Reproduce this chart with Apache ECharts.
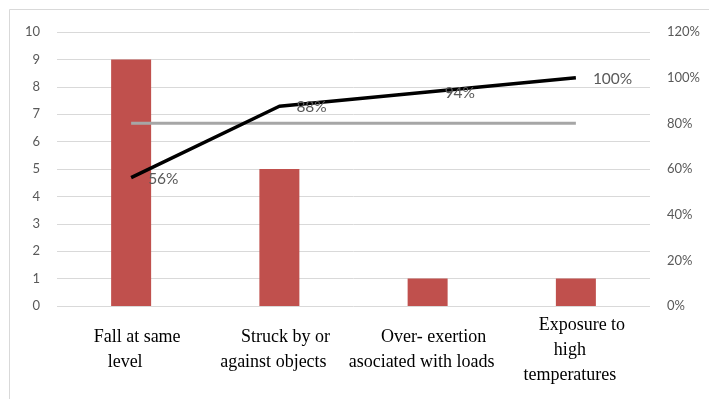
<!DOCTYPE html>
<html>
<head>
<meta charset="utf-8">
<script src="https://cdn.jsdelivr.net/npm/echarts@6/dist/echarts.min.js"></script>
<style>
  html, body { margin: 0; padding: 0; background: #fff; }
  #chart { width: 709px; height: 399px; }
</style>
</head>
<body>
<div id="chart"></div>
<script>
// Accident types and their counts (Pareto chart)
const categories = [
  'Fall at same\nlevel',
  'Struck by or\nagainst objects',
  'Over- exertion\nasociated with loads',
  'Exposure to\nhigh\ntemperatures'
];
const counts = [9, 5, 1, 1];
const cumulativeShare = [0.5625, 0.875, 0.9375, 1.0];
const cumulativeLabels = ['56%', '88%', '94%', '100%'];
const thresholdLine = [0.8, 0.8, 0.8, 0.8];
const leftTicks = { min: 0, max: 10, interval: 1 };
const rightTicks = { min: 0, max: 1.2, interval: 0.2 };

const numFont = 'Lato, Liberation Sans, sans-serif';
const serifFont = 'Liberation Serif, DejaVu Serif, serif';
const catText = { color: '#000', fontFamily: serifFont, fontSize: 18, lineHeight: 25 };

// First line of each category name sits a little to the right of the rest
function categoryLabel(value) {
  const lines = value.split('\n');
  const first = '{first|' + lines[0] + '}';
  const rest = lines.slice(1).map(l => '{rest|' + l + '}');
  return [first].concat(rest).join('\n');
}

const chart = echarts.init(document.getElementById('chart'), null, { renderer: 'canvas' });
chart.setOption({
  animation: false,
  backgroundColor: '#fff',
  graphic: [{
    type: 'polyline',
    shape: { points: [[9.5, 420], [9.5, 9.5], [720, 9.5]] },
    style: { stroke: '#d9d9d9', lineWidth: 1, fill: null }
  }],
  grid: { left: 57, right: 59, top: 32, bottom: 93 },
  xAxis: {
    type: 'category', data: categories, boundaryGap: true,
    axisLine: { show: false }, axisTick: { show: false },
    axisLabel: {
      interval: 0, verticalAlign: 'middle', margin: 44,
      formatter: categoryLabel,
      rich: {
        first: Object.assign({ padding: [0, 0, 0, 12] }, catText),
        rest: Object.assign({ padding: [0, 12, 0, 0] }, catText)
      }
    }
  },
  yAxis: [
    { type: 'value', position: 'left', ...leftTicks,
      axisLine: { show: false }, axisTick: { show: false },
      axisLabel: { color: '#595959', fontFamily: numFont, fontSize: 13, margin: 17 },
      splitLine: { lineStyle: { color: '#d9d9d9', width: 1 } } },
    { type: 'value', position: 'right', ...rightTicks,
      axisLine: { show: false }, axisTick: { show: false }, splitLine: { show: false },
      axisLabel: { color: '#595959', fontFamily: numFont, fontSize: 13, margin: 17,
        formatter: v => Math.round(v * 100) + '%' } }
  ],
  series: [
    { type: 'bar', yAxisIndex: 0, data: counts, barWidth: 40,
      itemStyle: { color: '#c0504d' } },
    { type: 'line', yAxisIndex: 1, data: thresholdLine,
      symbol: 'none', lineStyle: { color: '#a6a6a6', width: 3 } },
    { type: 'line', yAxisIndex: 1, data: cumulativeShare,
      symbol: 'circle', symbolSize: 0, showSymbol: true,
      itemStyle: { color: 'rgba(0,0,0,0)' },
      lineStyle: { color: '#000', width: 3.5 },
      label: { show: true, position: 'right', distance: 17, color: '#595959',
        fontFamily: numFont, fontSize: 15.5, offset: [0, 1],
        formatter: p => cumulativeLabels[p.dataIndex] } }
  ]
});
</script>
</body>
</html>
